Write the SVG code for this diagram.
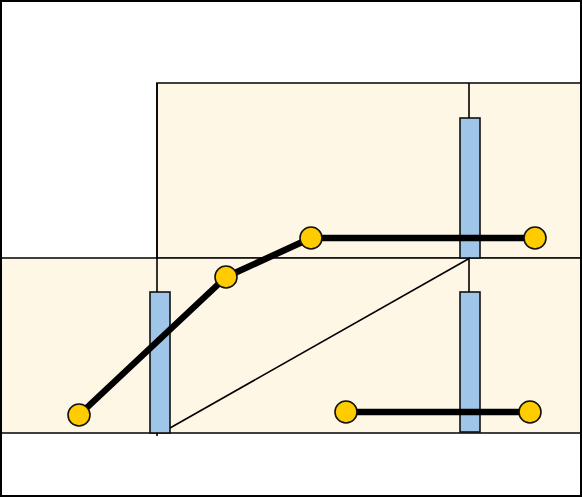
<svg xmlns="http://www.w3.org/2000/svg" width="582" height="497" viewBox="0 0 582 497">
<style>
.zone{fill:#fff7e6;stroke:#111;stroke-width:1.6}
.bar{fill:#9fc5e8;stroke:#111;stroke-width:1.6}
.thin{stroke:#000;stroke-width:1.6;fill:none}
.thick{stroke:#000;stroke-width:6.5;fill:none;stroke-linejoin:round}
.pt{fill:#ffcc00;stroke:#111;stroke-width:1.6}
</style>
<rect x="0" y="0" width="582" height="497" fill="#fff"/>
<g id="zone-top"><rect class="zone" x="157" y="83" width="425" height="175"/></g>
<g id="zone-bottom"><rect class="zone" x="0" y="258" width="582" height="175"/></g>
<g id="bar-left"><rect class="bar" x="150" y="292" width="20" height="141"/></g>
<g id="bar-top-right"><rect class="bar" x="460" y="118" width="20" height="140"/></g>
<g id="bar-bottom-right"><rect class="bar" x="460" y="292" width="20" height="140"/></g>
<g id="connectors">
<line class="thin" x1="157" y1="83" x2="157" y2="292"/>
<line class="thin" x1="157" y1="433" x2="157" y2="436" stroke-width="1"/>
<line class="thin" x1="469" y1="83" x2="469" y2="118"/>
<line class="thin" x1="469" y1="258" x2="469" y2="292"/>
<line class="thin" x1="470" y1="258" x2="170" y2="428"/>
<polyline class="thick" points="79,415 226,277 311,238 535,238"/>
<line class="thick" x1="346" y1="412" x2="530" y2="412"/>
</g>
<g id="p1"><circle class="pt" cx="79" cy="415" r="11"/></g>
<g id="p2"><circle class="pt" cx="226" cy="277" r="11"/></g>
<g id="p3"><circle class="pt" cx="311" cy="238" r="11"/></g>
<g id="p4"><circle class="pt" cx="535" cy="238" r="11"/></g>
<g id="p5"><circle class="pt" cx="346" cy="412" r="11"/></g>
<g id="p6"><circle class="pt" cx="530" cy="412" r="11"/></g>
<rect x="1" y="1" width="580" height="495" fill="none" stroke="#000" stroke-width="2"/>
</svg>
